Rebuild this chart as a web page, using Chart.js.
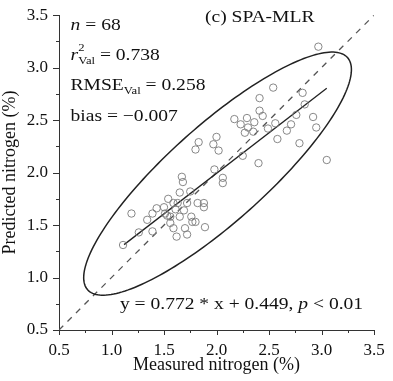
<!DOCTYPE html>
<html>
<head>
<meta charset="utf-8">
<script src="https://cdn.jsdelivr.net/npm/chart.js@4.4.1/dist/chart.umd.min.js"></script>
<style>
  html, body { margin: 0; padding: 0; background: #fff; }
  #wrap { width: 393px; height: 381px; }
</style>
</head>
<body>
<div id="wrap"><canvas id="chart"></canvas></div>
<script>
// measured vs predicted nitrogen (%), validation set
const measured = [
  2.97, 2.54, 2.41, 2.82, 2.84, 2.17, 2.29, 2.36, 2.41, 2.44, 2.76, 2.92,
  2.95, 2.71, 2.30, 2.27, 2.35, 2.49, 2.56, 2.58, 2.79, 2.25, 2.40, 3.05,
  2.00, 1.83, 1.80, 1.97, 2.02, 1.98, 2.06, 2.06, 1.67, 1.68, 1.65, 1.75,
  1.82, 1.88, 1.72, 1.59, 1.61, 1.65, 1.76, 1.77, 1.59, 1.70, 1.72, 1.89,
  1.56, 1.88, 1.19, 1.11, 1.26, 1.39, 1.34, 1.39, 1.43, 1.50, 1.54, 1.53,
  1.56, 1.62, 1.63, 1.51, 1.69, 1.80, 2.23, 2.67
];
const predicted = [
  3.20, 2.81, 2.71, 2.76, 2.65, 2.51, 2.52, 2.48, 2.59, 2.54, 2.55, 2.53,
  2.43, 2.46, 2.43, 2.38, 2.39, 2.42, 2.47, 2.32, 2.28, 2.16, 2.09, 2.12,
  2.34, 2.29, 2.22, 2.27, 2.21, 2.03, 1.95, 1.90, 1.96, 1.91, 1.81, 1.82,
  1.71, 1.71, 1.71, 1.71, 1.65, 1.58, 1.58, 1.53, 1.47, 1.47, 1.41, 1.48,
  1.58, 1.67, 1.61, 1.31, 1.43, 1.44, 1.55, 1.61, 1.66, 1.67, 1.75, 1.59,
  1.52, 1.39, 1.71, 1.61, 1.64, 1.53, 2.46, 2.40
];
const axisTicks = [0.5, 1.0, 1.5, 2.0, 2.5, 3.0, 3.5];
const minorTicks = [0.75, 1.25, 1.75, 2.25, 2.75, 3.25];

// fitted line y = 0.772 x + 0.449 over the measured range
const fitSlope = 0.772;
const fitIntercept = 0.449;
const fitX = [1.12, 3.05];
const oneToOne = [0.5, 3.5];

// confidence ellipse (data units): centre, semi-axes, tilt in degrees
const ellipseCentre = [2.01, 1.99];
const ellipseAxes = [1.66, 0.46];
const ellipseTilt = 41.8;

const SERIF = '"Liberation Serif", "Times New Roman", serif';
const STRETCH = 1.15;

const pts = measured.map((x, i) => ({ x, y: predicted[i] }));

const stretchText = (ctx, str, x, y, size, italic) => {
  ctx.font = `${italic ? 'italic ' : ''}${size}px ${SERIF}`;
  const w = ctx.measureText(str).width * STRETCH;
  ctx.save();
  ctx.translate(x, y);
  ctx.scale(STRETCH, 1);
  ctx.fillText(str, 0, 0);
  ctx.restore();
  return w;
};

// draws a run of pieces: {t, it} plain text, or {sup, sub} stacked scripts
const drawRun = (ctx, pieces, x, y) => {
  let cx = x;
  pieces.forEach((p) => {
    if (p.sup || p.sub) {
      let w1 = 0, w2 = 0;
      if (p.sup) w1 = stretchText(ctx, p.sup, cx, y - 7, 11, false);
      if (p.sub) w2 = stretchText(ctx, p.sub, cx, y + 6, 11, false);
      cx += Math.max(w1, w2);
    } else {
      cx += stretchText(ctx, p.t, cx, y, 17, p.it);
    }
  });
};

const notes = [
  { x: 0.61, y: 3.40, run: [{ t: 'n', it: true }, { t: ' = 68' }] },
  { x: 0.61, y: 3.12, run: [{ t: 'r', it: true }, { sup: '2', sub: 'Val' }, { t: ' = 0.738' }] },
  { x: 0.61, y: 2.83, run: [{ t: 'RMSE' }, { sub: 'Val' }, { t: ' = 0.258' }] },
  { x: 0.61, y: 2.53, run: [{ t: 'bias = \u22120.007' }] },
  { x: 1.89, y: 3.48, run: [{ t: '(c) SPA-MLR' }] },
  { x: 1.08, y: 0.74, run: [{ t: 'y = 0.772 * x + 0.449, ' }, { t: 'p', it: true }, { t: ' < 0.01' }] }
];

const overlay = {
  id: 'overlay',
  afterDatasetsDraw(chart) {
    const { ctx, scales: { x, y } } = chart;
    // ellipse
    const th = ellipseTilt * Math.PI / 180;
    ctx.save();
    ctx.beginPath();
    for (let k = 0; k <= 200; k++) {
      const t = (k / 200) * Math.PI * 2;
      const dx = ellipseAxes[0] * Math.cos(t);
      const dy = ellipseAxes[1] * Math.sin(t);
      const px = x.getPixelForValue(ellipseCentre[0] + dx * Math.cos(th) - dy * Math.sin(th));
      const py = y.getPixelForValue(ellipseCentre[1] + dx * Math.sin(th) + dy * Math.cos(th));
      if (k === 0) ctx.moveTo(px, py); else ctx.lineTo(px, py);
    }
    ctx.closePath();
    ctx.strokeStyle = '#222';
    ctx.lineWidth = 1.5;
    ctx.stroke();
    ctx.restore();
  },
  afterDraw(chart) {
    const { ctx, scales: { x, y } } = chart;
    ctx.save();
    // major and minor tick marks, pointing outwards
    ctx.strokeStyle = '#333';
    ctx.lineWidth = 1;
    ctx.beginPath();
    const mark = (v, xLen, yLen) => {
      const px = Math.round(x.getPixelForValue(v)) + 0.5;
      ctx.moveTo(px, x.top);
      ctx.lineTo(px, x.top + xLen);
      const py = Math.round(y.getPixelForValue(v)) + 0.5;
      ctx.moveTo(y.right, py);
      ctx.lineTo(y.right - yLen, py);
    };
    axisTicks.forEach((v) => mark(v, 5, 6));
    minorTicks.forEach((v) => mark(v, 3, 3));
    ctx.stroke();
    // text notes
    ctx.fillStyle = '#111';
    ctx.textBaseline = 'middle';
    ctx.textAlign = 'left';
    notes.forEach((n) => drawRun(ctx, n.run, x.getPixelForValue(n.x), y.getPixelForValue(n.y)));
    ctx.restore();
  }
};

const axisOpts = (len, title, titlePad) => ({
  type: 'linear',
  min: 0.5,
  max: 3.5,
  afterBuildTicks: (s) => { s.ticks = axisTicks.map((v) => ({ value: v })); },
  grid: { drawOnChartArea: false, drawTicks: true, tickLength: len, color: 'rgba(0,0,0,0)', lineWidth: 1 },
  border: { display: true, color: '#333', width: 1 },
  ticks: {
    color: '#111',
    padding: len === 6 ? 5 : 6,
    font: { family: SERIF, size: 17 },
    callback: (v) => Number(v).toFixed(1)
  },
  title: { display: true, text: title, color: '#111', padding: titlePad, font: { family: SERIF, size: 18, lineHeight: 1.1 } }
});

const xAxis = axisOpts(4, 'Measured nitrogen (%)', { top: 0, bottom: 6 });
xAxis.afterFit = (s) => { s.height = 51; };
const yAxis = axisOpts(6, 'Predicted nitrogen (%)', { top: 0, bottom: 0 });
yAxis.afterFit = (s) => { s.width = 59; };

new Chart(document.getElementById('chart'), {
  type: 'scatter',
  data: {
    datasets: [
      {
        data: pts,
        showLine: false,
        pointStyle: 'circle',
        pointRadius: 3.7,
        pointBorderWidth: 0.9,
        pointBorderColor: '#7a7a7a',
        pointBackgroundColor: 'rgba(255,255,255,0)',
        order: 1
      },
      {
        data: fitX.map((v) => ({ x: v, y: fitSlope * v + fitIntercept })),
        showLine: true,
        borderColor: '#222',
        borderWidth: 1.3,
        pointRadius: 0,
        order: 2
      },
      {
        data: oneToOne.map((v) => ({ x: v, y: v })),
        showLine: true,
        borderColor: '#555',
        borderWidth: 1.3,
        borderDash: [6, 6],
        pointRadius: 0,
        order: 3
      }
    ]
  },
  options: {
    responsive: true,
    maintainAspectRatio: false,
    animation: false,
    layout: { padding: { top: 15, right: 19, bottom: 0, left: 0 } },
    plugins: { legend: { display: false }, tooltip: { enabled: false } },
    scales: { x: xAxis, y: yAxis }
  },
  plugins: [overlay]
});
</script>
</body>
</html>
